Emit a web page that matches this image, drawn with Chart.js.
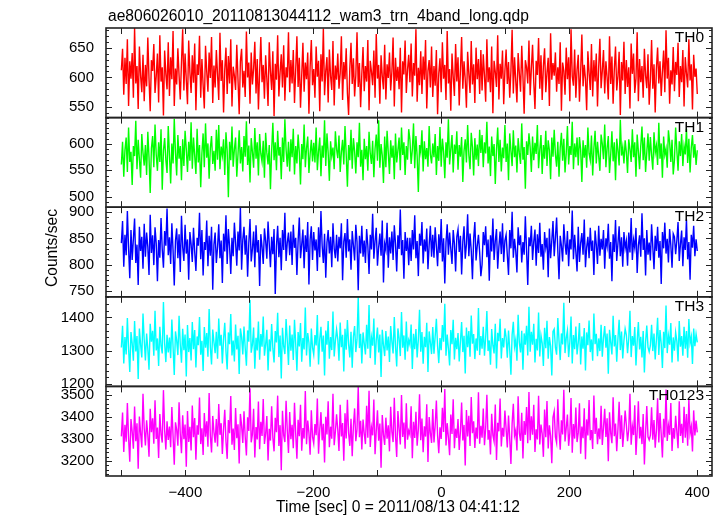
<!DOCTYPE html>
<html>
<head>
<meta charset="utf-8">
<script src="https://cdn.jsdelivr.net/npm/chart.js@4.4.1/dist/chart.umd.min.js"></script>
<style>
  html, body { margin: 0; padding: 0; background: #fff; }
  #wrap { position: relative; width: 723px; height: 516px; }
</style>
</head>
<body>
<div id="wrap"><canvas id="lc" width="723" height="516"></canvas></div>
<script>
// --- data ---
const TITLE = 'ae806026010_20110813044112_wam3_trn_4band_long.qdp';
const X_LABEL = 'Time [sec] 0 = 2011/08/13 04:41:12';
const Y_LABEL = 'Counts/sec';
const T_START = -500, T_END = 400;           // first / last time bin (sec)
const X_RANGE = [-524, 423];
const X_TICKS = [-400, -200, 0, 200, 400];
const X_MARKS = [-500, -400, -300, -200, -100, 0, 100, 200, 300, 400];

const names = ['TH0', 'TH1', 'TH2', 'TH3', 'TH0123'];

const th0 = [
  612,648,571,633,589,664,552,627,598,641,566,683,590,619,547,652,603,575,638,560,
  621,585,667,598,543,629,611,656,574,602,640,558,671,593,617,536,645,606,580,659,
  569,634,597,678,552,615,588,649,603,563,626,681,578,640,596,555,662,609,574,637,
  591,657,545,622,604,670,566,631,587,548,653,610,576,642,599,668,557,620,583,646,
  605,562,675,594,629,541,613,650,572,636,590,664,551,618,603,579,655,597,538,627,
  648,583,611,567,677,600,625,556,642,588,615,660,573,631,546,609,668,592,621,564,
  637,598,552,659,610,579,644,535,623,596,671,568,608,639,583,654,561,617,600,676,
  575,629,590,646,557,612,669,584,633,549,603,658,576,625,597,642,539,618,663,587,
  614,566,652,601,628,543,639,593,682,570,611,634,558,647,602,579,661,553,620,596,
  640,581,607,669,562,626,597,649,574,537,615,658,589,632,568,603,676,584,624,550,
  606,651,577,619,593,663,545,628,610,587,645,566,673,598,621,556,637,602,580,655,
  563,622,599,642,578,610,667,551,633,594,618,580,650,541,627,605,662,574,613,638,
  592,657,568,624,603,681,559,616,587,644,572,635,596,663,548,611,629,583,652,567,
  619,586,646,538,607,632,575,659,598,621,562,678,590,614,544,640,601,569,656,593,
  634,553,612,668,581,627,596,549,643,606,574,661,588,622,557,650,597,631,572,646,
  578,639,603,559,664,592,617,575,652,540,628,609,584,671,563,623,598,645,555,611,
  647,589,626,566,611,680,573,634,595,558,641,607,576,653,601,539,629,617,590,662,
  570,615,655,592,547,628,604,666,581,637,562,619,649,575,608,633,552,674,596,624,
  603,642,576,617,589,659,544,625,611,571,650,597,634,560,681,602,586,647,566,613,
  638,559,610,672,585,621,597,545,644,608,579,656,568,629,593,640,551,618,665,582,
  611,646,573,627,600,563,669,589,635,556,614,652,578,602,643,537,626,595,660,572,
  629,584,617,548,657,606,640,574,598,676,560,631,592,619,566,648,603,582,639,554,
  596,663,581,622,541,615,650,590,627,569,610,645,575,679,598,633,556,612,588,651,
  577,626,604,658,567,619,592,646,551,634,607,583,664,595,622,546,638,601,615,572
];
const th1 = [
  561,604,538,589,612,547,631,566,585,522,596,577,644,552,608,571,536,619,583,559,
  598,541,623,574,507,592,615,556,637,580,549,603,566,628,513,587,611,570,545,634,
  579,525,601,563,648,584,540,617,572,596,531,609,558,625,590,547,604,568,641,553,
  612,577,543,629,565,598,518,583,620,556,639,574,601,534,592,615,562,587,549,627,
  570,636,552,595,578,609,541,622,587,499,604,569,633,557,590,612,538,580,626,563,
  594,548,615,576,643,560,597,527,611,585,555,630,572,603,540,619,581,566,606,536,
  621,583,561,598,514,587,640,569,603,550,625,578,594,533,612,566,647,589,557,604,
  548,609,575,629,542,596,563,618,584,523,600,571,637,556,592,614,545,581,608,567,
  602,565,631,550,586,612,539,597,574,645,558,620,583,530,605,577,593,552,624,590,
  573,616,547,585,608,561,634,580,519,598,569,627,553,611,586,544,603,575,640,557,
  589,531,610,571,596,549,623,582,562,606,537,591,618,568,645,555,600,578,526,614,
  556,625,583,543,607,574,597,533,620,565,588,612,550,631,579,603,541,596,570,628,
  608,562,589,639,554,615,577,509,598,584,626,548,605,571,592,557,634,580,563,601,
  575,619,541,596,568,632,557,610,586,535,603,574,647,561,590,617,546,599,581,624,
  551,598,576,613,528,587,609,565,636,579,552,621,594,540,611,570,599,558,627,583,
  617,556,603,582,642,563,595,539,614,577,600,524,589,631,566,608,548,593,573,636,
  566,601,531,620,587,558,626,575,597,546,611,583,562,639,570,594,515,605,579,620,
  593,547,614,569,602,581,636,554,589,617,543,598,572,625,558,607,588,533,612,576,
  627,580,557,604,538,593,621,568,610,546,583,634,561,596,579,642,552,601,575,612,
  559,613,589,528,607,574,598,555,631,582,569,616,540,592,625,563,604,577,549,618,
  600,571,637,556,592,615,545,580,624,567,603,531,610,588,559,646,578,594,563,607,
  584,545,609,590,566,628,575,603,538,618,586,552,597,633,569,612,547,584,620,568,
  613,578,551,622,583,597,560,640,572,601,536,614,579,591,555,626,603,566,608,542,
  569,631,588,549,605,577,619,558,596,580,629,564,610,546,593,617,574,600,560,588
];
const th2 = [
  841,883,796,857,818,902,831,774,866,809,849,888,803,838,761,872,826,853,792,878,
  815,861,834,780,895,822,856,799,871,840,768,847,813,889,829,794,864,836,907,818,
  852,801,879,827,760,845,869,812,858,786,893,833,807,876,821,848,771,862,839,805,
  870,824,788,851,836,899,810,866,779,843,828,884,797,855,817,872,752,838,861,803,
  833,877,812,846,765,859,825,894,801,868,835,782,851,816,880,842,798,863,827,909,
  790,848,872,819,856,777,841,887,806,830,863,795,875,823,847,759,858,834,801,869,
  845,811,882,839,795,853,820,868,744,836,874,814,851,789,866,828,899,807,842,861,
  818,863,799,876,832,851,780,845,890,812,838,867,793,856,824,881,762,848,873,809,
  862,827,848,788,871,814,902,836,803,859,775,842,866,821,853,795,879,831,812,857,
  806,853,831,879,770,844,860,813,887,825,848,790,864,837,808,876,843,751,855,821,
  874,815,846,803,868,836,782,857,829,897,811,845,870,798,833,859,817,884,766,840,
  828,880,794,852,821,863,809,875,840,787,856,830,905,818,847,773,862,826,851,799,
  851,807,866,829,894,812,845,778,859,836,881,802,848,825,869,791,838,874,815,857,
  813,871,835,797,858,822,887,806,850,764,842,877,819,861,830,801,866,840,787,853,
  867,824,855,781,844,873,811,839,896,816,859,827,772,849,881,808,836,857,823,778,
  800,862,837,873,814,848,769,856,825,888,809,845,868,792,834,863,820,879,805,846,
  857,818,780,866,831,901,813,849,826,785,871,837,856,804,843,819,892,828,761,852,
  835,874,809,844,867,798,858,822,880,815,839,790,862,833,851,776,869,812,846,883,
  816,851,890,827,772,855,836,806,877,841,819,864,797,848,829,903,810,857,824,787,
  872,805,841,860,819,886,795,833,853,812,870,826,846,780,865,838,801,874,817,849,
  829,866,792,850,835,878,811,843,768,858,824,885,807,840,873,816,852,796,862,831,
  845,798,861,823,889,809,847,832,870,784,837,856,815,898,828,850,779,866,819,842,
  808,877,834,791,855,826,872,813,845,763,862,831,880,821,849,804,868,837,794,859,
  853,820,846,881,807,839,865,797,852,828,886,810,843,771,857,832,874,816,848,826
];
const th3 = [
  1310,1375,1262,1341,1289,1398,1307,1236,1356,1322,1270,1389,1298,1344,1215,1367,1319,1280,1412,1333,
  1271,1352,1306,1243,1381,1327,1360,1285,1420,1301,1337,1254,1372,1315,1292,1446,1323,1266,1348,1295,
  1340,1278,1394,1312,1227,1358,1331,1287,1405,1319,1264,1366,1302,1349,1223,1377,1296,1338,1271,1386,
  1305,1362,1250,1343,1317,1401,1288,1330,1239,1371,1309,1353,1282,1425,1311,1259,1364,1326,1293,1357,
  1276,1397,1315,1348,1262,1336,1384,1299,1244,1355,1320,1410,1286,1331,1268,1379,1304,1345,1230,1367,
  1342,1289,1373,1308,1255,1361,1327,1452,1294,1318,1370,1246,1339,1301,1388,1273,1350,1312,1403,1285,
  1319,1363,1241,1334,1298,1380,1307,1265,1359,1325,1414,1281,1346,1217,1369,1314,1290,1395,1330,1257,
  1376,1300,1349,1272,1393,1321,1240,1356,1313,1383,1267,1338,1304,1430,1286,1353,1324,1252,1367,1309,
  1288,1347,1316,1407,1259,1335,1372,1297,1346,1226,1361,1318,1389,1276,1341,1302,1418,1283,1329,1364,
  1335,1270,1385,1311,1348,1238,1366,1303,1392,1320,1280,1357,1249,1343,1374,1296,1334,1461,1308,1351,
  1262,1355,1322,1289,1378,1306,1437,1278,1340,1315,1397,1258,1332,1370,1295,1349,1221,1363,1317,1284,
  1359,1301,1343,1266,1374,1328,1292,1401,1313,1253,1367,1337,1284,1416,1309,1346,1273,1388,1298,1332,
  1318,1379,1245,1351,1305,1365,1280,1334,1423,1297,1356,1261,1342,1311,1384,1236,1358,1325,1290,1371,
  1291,1344,1396,1314,1263,1338,1302,1377,1327,1441,1285,1349,1307,1256,1362,1320,1393,1274,1339,1305,
  1353,1268,1327,1386,1296,1345,1232,1370,1311,1359,1282,1406,1321,1350,1275,1337,1300,1428,1287,1344,
  1306,1372,1285,1340,1419,1299,1331,1258,1365,1316,1292,1381,1247,1354,1329,1396,1277,1338,1310,1367,
  1340,1279,1361,1304,1228,1348,1387,1312,1333,1270,1408,1325,1295,1360,1243,1352,1318,1375,1286,1432,
  1297,1357,1318,1381,1265,1336,1301,1415,1283,1346,1323,1254,1369,1308,1390,1276,1341,1314,1226,1358,
  1365,1310,1288,1398,1330,1272,1352,1319,1444,1293,1338,1361,1281,1326,1403,1262,1347,1305,1373,1289,
  1324,1383,1259,1343,1306,1368,1241,1355,1317,1391,1296,1334,1270,1412,1320,1351,1284,1337,1299,1378,
  1282,1339,1374,1309,1352,1231,1363,1325,1289,1405,1313,1347,1267,1336,1393,1302,1358,1277,1331,1366,
  1348,1293,1336,1420,1281,1344,1315,1371,1256,1329,1386,1304,1342,1280,1359,1235,1326,1376,1311,1297,
  1316,1378,1299,1352,1274,1333,1399,1287,1362,1321,1248,1357,1308,1436,1293,1345,1318,1383,1265,1340,
  1300,1355,1329,1268,1389,1312,1344,1285,1372,1306,1359,1279,1395,1323,1342,1260,1367,1314,1350,1325
];
const th0123 = [
  3312,3420,3241,3365,3288,3463,3305,3197,3391,3334,3256,3448,3290,3371,3165,3402,3327,3262,3505,3348,
  3271,3385,3318,3220,3437,3331,3394,3279,3476,3300,3352,3214,3413,3322,3284,3522,3340,3252,3380,3296,
  3357,3263,3445,3315,3183,3376,3343,3270,3467,3324,3235,3408,3299,3366,3174,3427,3287,3355,3248,3452,
  3308,3395,3206,3362,3320,3488,3277,3349,3227,3418,3311,3381,3265,3509,3316,3239,3405,3332,3283,3391,
  3266,3459,3319,3372,3232,3345,3433,3291,3210,3386,3326,3495,3274,3348,3250,3441,3304,3367,3189,3414,
  3361,3282,3426,3309,3225,3399,3337,3531,3285,3321,3437,3216,3354,3298,3470,3254,3378,3314,3482,3278,
  3324,3404,3203,3346,3293,3449,3307,3244,3396,3331,3497,3268,3363,3158,3428,3318,3286,3474,3339,3237,
  3423,3299,3365,3258,3465,3325,3211,3387,3313,3455,3247,3350,3302,3518,3276,3384,3328,3229,3431,3310,
  3280,3368,3317,3484,3233,3342,3422,3294,3369,3193,3401,3321,3471,3263,3356,3301,3506,3272,3333,3412,
  3341,3246,3456,3312,3373,3201,3417,3303,3478,3327,3269,3392,3222,3359,3439,3290,3344,3537,3308,3383,
  3253,3388,3325,3277,3451,3306,3519,3264,3352,3317,3479,3231,3337,3430,3292,3370,3170,3409,3320,3273,
  3397,3301,3362,3244,3446,3333,3286,3487,3314,3218,3427,3347,3275,3500,3309,3375,3256,3462,3297,3338,
  3320,3449,3213,3378,3305,3424,3270,3343,3503,3295,3393,3240,3358,3311,3458,3196,3400,3328,3282,3436,
  3284,3361,3475,3316,3236,3353,3300,3442,3332,3527,3271,3372,3307,3226,3411,3323,3480,3258,3347,3305,
  3391,3250,3334,3466,3293,3364,3180,3432,3312,3406,3268,3491,3326,3380,3259,3352,3301,3512,3279,3360,
  3306,3438,3272,3349,3501,3297,3340,3230,3415,3318,3289,3457,3205,3374,3335,3484,3266,3351,3311,3429,
  3346,3262,3407,3303,3187,3371,3460,3315,3339,3248,3494,3327,3292,3419,3212,3382,3319,3445,3281,3514,
  3294,3403,3320,3455,3241,3344,3298,3497,3275,3366,3324,3219,3434,3308,3473,3257,3362,3314,3190,3398,
  3425,3310,3283,3480,3336,3251,3385,3321,3524,3289,3350,3411,3269,3327,3486,3238,3368,3302,3443,3286,
  3329,3462,3233,3357,3304,3440,3208,3389,3316,3477,3295,3341,3255,3498,3323,3396,3276,3348,3299,3451,
  3273,3353,3437,3309,3394,3199,3421,3327,3281,3490,3313,3370,3245,3344,3469,3300,3408,3264,3338,3429,
  3364,3290,3343,3506,3274,3358,3318,3453,3227,3332,3471,3303,3355,3277,3414,3184,3326,3450,3310,3296,
  3317,3444,3297,3386,3260,3337,3485,3284,3418,3322,3216,3392,3307,3525,3291,3361,3319,3463,3246,3350,
  3301,3406,3334,3258,3472,3314,3369,3282,3447,3306,3413,3270,3482,3325,3357,3243,3430,3316,3384,3330
];

// y ranges, labelled ticks and minor tick step of each panel
const yRanges  = [[532.5, 683], [480, 650], [738.5, 909.5], [1193, 1462], [3132, 3539]];
const yTicks   = [[550, 600, 650], [500, 550, 600], [750, 800, 850, 900], [1200, 1300, 1400], [3200, 3300, 3400, 3500]];
const yMinor   = [10, 10, 10, 20, 20];
const series   = [th0, th1, th2, th3, th0123];
const colors   = ['#ff0000', '#00ff00', '#0000ff', '#00ffff', '#ff00ff'];

// --- chart ---
const FONT = 'Liberation Sans, Arial, Helvetica, sans-serif';
Chart.defaults.font.family = FONT;
Chart.defaults.font.size = 15;
Chart.defaults.color = '#000';

const fmt = v => (v < 0 ? '\u2212' + Math.abs(v) : String(v));

const toPoints = arr => arr.map((v, i) => ({ x: T_START + i * (T_END - T_START) / (arr.length - 1), y: v }));

const scales = {
  x: {
    type: 'linear', position: 'bottom',
    min: X_RANGE[0], max: X_RANGE[1],
    afterBuildTicks: s => { s.ticks = X_TICKS.map(v => ({ value: v })); },
    afterFit: s => { s.height = 40; },
    grid: { display: false, drawTicks: false }, border: { display: false },
    ticks: { padding: 8, maxRotation: 0, autoSkip: false, callback: v => fmt(v) }
  }
};
names.forEach((n, i) => {
  scales['y' + i] = {
    type: 'linear', position: 'left', stack: 'lc', stackWeight: 1,
    weight: names.length - 1 - i,          // first panel on top
    min: yRanges[i][0], max: yRanges[i][1],
    afterBuildTicks: s => { s.ticks = yTicks[i].map(v => ({ value: v })); },
    afterFit: s => { s.width = 106; },
    grid: { display: false, drawTicks: false }, border: { display: false },
    ticks: { padding: 12, autoSkip: false, callback: v => fmt(v) }
  };
});

// clip every trace to its own panel
const panelClip = {
  id: 'panelClip',
  beforeDatasetDraw(chart, args) {
    const ys = args.meta.yScale, a = chart.chartArea;
    chart.ctx.save();
    chart.ctx.beginPath();
    chart.ctx.rect(a.left, ys.top, a.right - a.left, ys.bottom - ys.top);
    chart.ctx.clip();
  },
  afterDatasetDraw(chart) { chart.ctx.restore(); }
};

// frames, inward ticks and texts in the QDP style
const qdpFrame = {
  id: 'qdpFrame',
  afterDatasetsDraw(chart) {
    const ctx = chart.ctx, a = chart.chartArea, xs = chart.scales.x;
    ctx.save();
    ctx.strokeStyle = '#222';
    names.forEach((n, i) => {
      const ys = chart.scales['y' + i];
      const top = ys.top, bot = ys.bottom;
      ctx.lineWidth = 1;
      ctx.beginPath();
      const step = yMinor[i];
      for (let v = Math.ceil(ys.min / step) * step; v <= ys.max; v += step) {
        const y = Math.round(ys.getPixelForValue(v)) + 0.5;
        const len = yTicks[i].includes(v) ? 6 : 3;
        ctx.moveTo(a.left, y); ctx.lineTo(a.left + len, y);
        ctx.moveTo(a.right, y); ctx.lineTo(a.right - len, y);
      }
      X_MARKS.forEach(t => {
        const x = Math.round(xs.getPixelForValue(t)) + 0.5;
        ctx.moveTo(x, top); ctx.lineTo(x, top + 6);
        ctx.moveTo(x, bot); ctx.lineTo(x, bot - 6);
      });
      ctx.stroke();
      ctx.lineWidth = 1.6;
      ctx.strokeRect(a.left, top, a.right - a.left, bot - top);
      ctx.fillStyle = '#000';
      ctx.font = '15.5px ' + FONT;
      ctx.textAlign = 'right';
      ctx.textBaseline = 'top';
      ctx.fillText(n, a.right - 8, top + 2);
    });
    ctx.fillStyle = '#000';
    ctx.font = '15.6px ' + FONT;
    ctx.textBaseline = 'alphabetic';
    ctx.textAlign = 'left';
    ctx.fillText(TITLE, 108, 21);
    ctx.textAlign = 'center';
    ctx.fillText(X_LABEL, 398, 512);
    ctx.translate(57, 248);
    ctx.rotate(-Math.PI / 2);
    ctx.fillText(Y_LABEL, 0, 0);
    ctx.restore();
  }
};

new Chart(document.getElementById('lc'), {
  type: 'line',
  data: {
    datasets: series.map((arr, i) => ({
      label: names[i],
      data: toPoints(arr),
      yAxisID: 'y' + i,
      borderColor: colors[i],
      borderWidth: 1.4,
      pointRadius: 0,
      tension: 0,
      fill: false
    }))
  },
  options: {
    responsive: false,
    animation: false,
    layout: { padding: { top: 28, right: 11, left: 0, bottom: 0 } },
    plugins: { legend: { display: false }, title: { display: false }, tooltip: { enabled: false } },
    scales
  },
  plugins: [panelClip, qdpFrame]
});
</script>
</body>
</html>
